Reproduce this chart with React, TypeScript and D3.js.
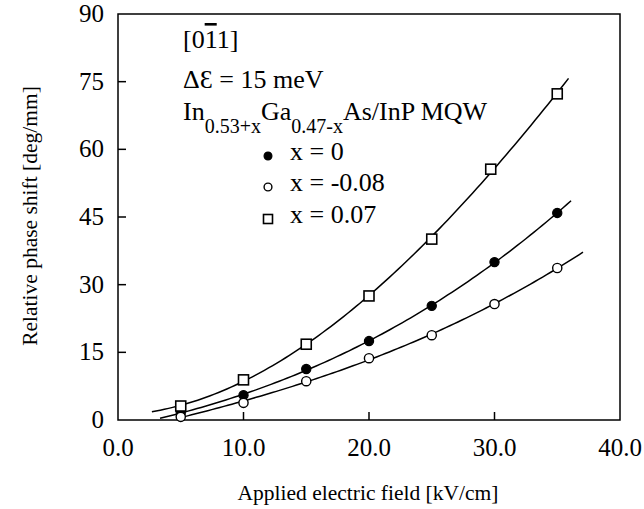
import React from "react";
import * as d3 from "d3";

const xTicks = [0, 10, 20, 30, 40];
const yTicks = [0, 15, 30, 45, 60, 75, 90];

const fieldX0 = [5, 10, 15, 20, 25, 30, 35];
const shiftX0 = [1.6, 5.5, 11.3, 17.5, 25.3, 35.0, 45.9];

const fieldXm008 = [5, 10, 15, 20, 25, 30, 35];
const shiftXm008 = [0.7, 3.8, 8.6, 13.7, 18.8, 25.7, 33.7];

const fieldX007 = [5, 10, 15, 20, 25, 29.7, 35];
const shiftX007 = [3.1, 8.9, 16.8, 27.5, 40.1, 55.6, 72.3];

// extent of each fitted curve (field, kV/cm)
const rangeX0 = [3.35, 36.1];
const rangeXm008 = [4.9, 37.05];
const rangeX007 = [2.7, 35.9];

const W = 644;
const H = 509;
const M = { left: 118, right: 620, top: 14, bottom: 420 };
const FONT = "'Liberation Serif', 'Times New Roman', serif";

function cubicFit(xs: number[], ys: number[]) {
  const n = 4;
  const A: number[][] = Array.from({ length: n }, () => new Array(n + 1).fill(0));
  xs.forEach((x, k) => {
    const p = [1, x, x * x, x * x * x];
    for (let i = 0; i < n; i++) {
      for (let j = 0; j < n; j++) A[i][j] += p[i] * p[j];
      A[i][n] += p[i] * ys[k];
    }
  });
  for (let i = 0; i < n; i++) {
    let mx = i;
    for (let r = i + 1; r < n; r++) if (Math.abs(A[r][i]) > Math.abs(A[mx][i])) mx = r;
    [A[i], A[mx]] = [A[mx], A[i]];
    for (let r = 0; r < n; r++) {
      if (r === i) continue;
      const f = A[r][i] / A[i][i];
      for (let c = i; c <= n; c++) A[r][c] -= f * A[i][c];
    }
  }
  const co = A.map((row, i) => row[n] / row[i]);
  return (x: number) => co[0] + co[1] * x + co[2] * x * x + co[3] * x * x * x;
}

export default function App() {
  const x = d3.scaleLinear().domain([0, 40]).range([M.left, M.right]);
  const y = d3.scaleLinear().domain([0, 90]).range([M.bottom, M.top]);
  const line = d3
    .line<[number, number]>()
    .x((d) => x(d[0]))
    .y((d) => y(d[1]))
    .curve(d3.curveLinear);

  const series = [
    { xs: fieldX0, ys: shiftX0, range: rangeX0, kind: "filled" },
    { xs: fieldXm008, ys: shiftXm008, range: rangeXm008, kind: "open" },
    { xs: fieldX007, ys: shiftX007, range: rangeX007, kind: "square" },
  ];

  const marker = (kind: string, cx: number, cy: number, key: any, s = 1) => {
    if (kind === "filled")
      return <circle key={key} cx={cx} cy={cy} r={4.6 * s} fill="#000" stroke="#000" strokeWidth={1.2} />;
    if (kind === "open")
      return <circle key={key} cx={cx} cy={cy} r={4.6 * s} fill="#fff" stroke="#000" strokeWidth={1.4} />;
    return (
      <rect key={key} x={cx - 5 * s} y={cy - 5 * s} width={10 * s} height={10 * s} fill="#fff" stroke="#000" strokeWidth={1.6} />
    );
  };

  return (
    <svg
      width={W}
      height={H}
      style={{ position: "absolute", left: 0, top: 0, background: "#fff" }}
      fontFamily={FONT}
    >
      <rect x={0} y={0} width={W} height={H} fill="#fff" />
      {/* frame */}
      <rect
        x={M.left}
        y={M.top}
        width={M.right - M.left}
        height={M.bottom - M.top}
        fill="none"
        stroke="#000"
        strokeWidth={1.5}
      />
      {/* y ticks */}
      {yTicks.map((t) => (
        <g key={"y" + t}>
          {t > 0 && t < 90 && (
            <line x1={M.left} x2={M.left + 8} y1={y(t)} y2={y(t)} stroke="#000" strokeWidth={1.5} />
          )}
          <text x={104} y={y(t) + 8} textAnchor="end" fontSize={25}>
            {t}
          </text>
        </g>
      ))}
      {/* x ticks */}
      {xTicks.map((t) => (
        <g key={"x" + t}>
          {t > 0 && t < 40 && (
            <line x1={x(t)} x2={x(t)} y1={M.bottom} y2={M.bottom - 8} stroke="#000" strokeWidth={1.5} />
          )}
          <text x={x(t)} y={456} textAnchor="middle" fontSize={25}>
            {t.toFixed(1)}
          </text>
        </g>
      ))}
      {/* axis titles */}
      <text x={368} y={500} textAnchor="middle" fontSize={21.5}>
        Applied electric field [kV/cm]
      </text>
      <text transform="translate(37,216) rotate(-90)" textAnchor="middle" fontSize={21.5}>
        Relative phase shift [deg/mm]
      </text>

      {/* curves and points */}
      {series.map((s, i) => {
        const f = cubicFit(s.xs, s.ys);
        const pts: [number, number][] = d3
          .range(0, 101)
          .map((k) => {
            const xv = s.range[0] + ((s.range[1] - s.range[0]) * k) / 100;
            return [xv, Math.max(0, f(xv))] as [number, number];
          });
        return (
          <g key={"s" + i}>
            <path d={line(pts) || ""} fill="none" stroke="#000" strokeWidth={1.5} />
            {s.xs.map((xv, j) => marker(s.kind, x(xv), y(s.ys[j]), j))}
          </g>
        );
      })}

      {/* annotations */}
      <text x={183} y={48} fontSize={26}>
        [0<tspan style={{ textDecoration: "overline" }}>1</tspan>1]
      </text>
      <text x={183} y={88} fontSize={26}>
        ΔƐ = 15 meV
      </text>
      <text x={183} y={120} fontSize={26}>
        In
        <tspan dy={13} fontSize={20}>0.53+x</tspan>
        <tspan dy={-13}>Ga</tspan>
        <tspan dy={13} fontSize={20}>0.47-x</tspan>
        <tspan dy={-13}>As/InP MQW</tspan>
      </text>
      {marker("filled", 268, 156, "l1", 0.85)}
      <text x={290} y={160} fontSize={26}>x = 0</text>
      {marker("open", 268, 187, "l2", 0.85)}
      <text x={290} y={191} fontSize={26}>x = -0.08</text>
      {marker("square", 268, 219, "l3", 0.9)}
      <text x={290} y={223} fontSize={26}>x = 0.07</text>
    </svg>
  );
}
